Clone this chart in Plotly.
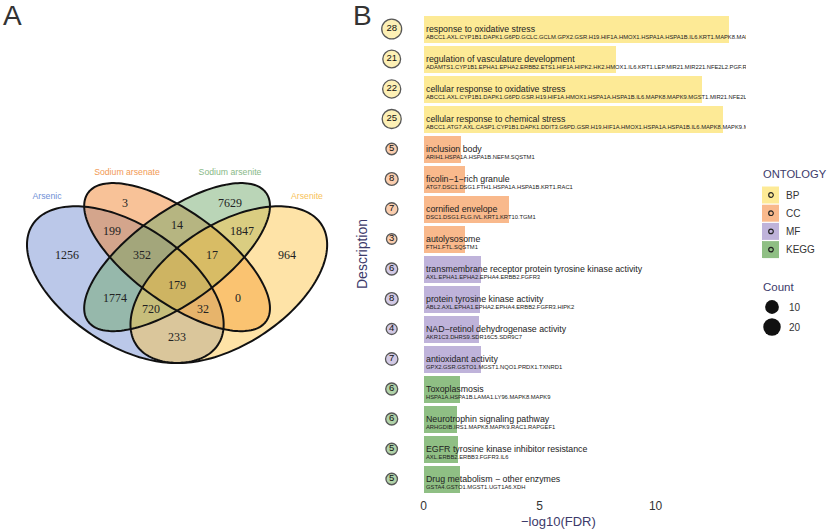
import numpy as np
import plotly.graph_objects as go

W, H = 828, 531

# ---------------- Panel A: Venn data ----------------
venn_sets = ["Arsenic", "Sodium arsenate", "Sodium arsenite", "Arsenite"]
venn_set_colors = ["#6f8fd6", "#f29a55", "#88b886", "#f7c25a"]
venn_regions = ["A", "B", "C", "D", "AB", "BC", "CD", "ABC", "BCD", "ABCD", "AC", "BD", "ACD", "ABD", "AD"]
venn_counts = [1256, 3, 7629, 964, 199, 14, 1847, 352, 17, 179, 1774, 0, 720, 32, 233]

# layout (pixel) positions of region labels and set names
venn_label_x = [67, 125, 230, 287, 112, 177, 242, 142, 212, 177, 115, 238, 151, 203, 177]
venn_label_y = [256, 204, 204, 256, 232, 226, 232, 256, 256, 286, 299, 299, 310, 310, 338]
venn_name_x = [47, 127, 230, 307]
venn_name_y = [197, 173, 173, 197]

# ellipse geometry in unit space (VennDiagram quad layout)
ell_cx = [0.35, 0.50, 0.50, 0.65]
ell_cy = [0.47, 0.57, 0.57, 0.47]
ell_a = [0.35, 0.35, 0.35, 0.35]
ell_b = [0.20, 0.15, 0.15, 0.20]
ell_rot = [-45, -45, 45, 45]
ell_fill = ["rgba(100,130,205,0.44)", "rgba(240,128,40,0.48)", "rgba(110,168,105,0.48)", "rgba(253,196,72,0.48)"]

# ---------------- Panel B: enrichment data ----------------
terms = [
    "response to oxidative stress",
    "regulation of vasculature development",
    "cellular response to oxidative stress",
    "cellular response to chemical stress",
    "inclusion body",
    "ficolin\u22121\u2212rich granule",
    "cornified envelope",
    "autolysosome",
    "transmembrane receptor protein tyrosine kinase activity",
    "protein tyrosine kinase activity",
    "NAD\u2212retinol dehydrogenase activity",
    "antioxidant activity",
    "Toxoplasmosis",
    "Neurotrophin signaling pathway",
    "EGFR tyrosine kinase inhibitor resistance",
    "Drug metabolism \u2212 other enzymes",
]
ontology = ["BP"] * 4 + ["CC"] * 4 + ["MF"] * 4 + ["KEGG"] * 4
counts = [28, 21, 22, 25, 5, 8, 7, 3, 6, 8, 4, 7, 6, 6, 5, 5]
neglog10_fdr = [13.15, 8.3, 12.0, 12.9, 1.63, 1.77, 3.67, 1.8, 2.46, 2.41, 2.4, 2.45, 1.58, 1.45, 1.47, 1.55]
genes = [
    "ABCC1.AXL.CYP1B1.DAPK1.G6PD.GCLC.GCLM.GPX2.GSR.H19.HIF1A.HMOX1.HSPA1A.HSPA1B.IL6.KRT1.MAPK8.MAPK9.MGST1.MIR21.NFE2L2",
    "ADAMTS1.CYP1B1.EPHA1.EPHA2.ERBB2.ETS1.HIF1A.HIPK2.HK2.HMOX1.IL6.KRT1.LEP.MIR21.MIR221.NFE2L2.PGF.RAC1",
    "ABCC1.AXL.CYP1B1.DAPK1.G6PD.GSR.H19.HIF1A.HMOX1.HSPA1A.HSPA1B.IL6.MAPK8.MAPK9.MGST1.MIR21.NFE2L2.NQO1",
    "ABCC1.ATG7.AXL.CASP1.CYP1B1.DAPK1.DDIT3.G6PD.GSR.H19.HIF1A.HMOX1.HSPA1A.HSPA1B.IL6.MAPK8.MAPK9.MGST1",
    "ARIH1.HSPA1A.HSPA1B.NEFM.SQSTM1",
    "ATG7.DSC1.DSG1.FTH1.HSPA1A.HSPA1B.KRT1.RAC1",
    "DSC1.DSG1.FLG.IVL.KRT1.KRT10.TGM1",
    "FTH1.FTL.SQSTM1",
    "AXL.EPHA1.EPHA2.EPHA4.ERBB2.FGFR3",
    "ABL2.AXL.EPHA1.EPHA2.EPHA4.ERBB2.FGFR3.HIPK2",
    "AKR1C3.DHRS9.SDR16C5.SDR9C7",
    "GPX2.GSR.GSTO1.MGST1.NQO1.PRDX1.TXNRD1",
    "HSPA1A.HSPA1B.LAMA1.LY96.MAPK8.MAPK9",
    "ARHGDIB.IRS1.MAPK8.MAPK9.RAC1.RAPGEF1",
    "AXL.ERBB2.ERBB3.FGFR3.IL6",
    "GSTA4.GSTO1.MGST1.UGT1A6.XDH",
]
ont_levels = ["BP", "CC", "MF", "KEGG"]
ont_colors = {"BP": "#fdea96", "CC": "#f9b98c", "MF": "#bfb3da", "KEGG": "#8fbf84"}
legend_counts = [10, 20]

SANS = "Liberation Sans, Arial, sans-serif"
SERIF = "Liberation Serif, Times New Roman, serif"
NAVY = "#3c3a6a"


def dot_size(c):
    return float(np.sqrt(11.5 * c + 75))


def P(x, y):
    return x / W, 1 - y / H


fig = go.Figure()
shapes = []
annotations = []

# ---------------- Venn ----------------
def u2p(ux, uy):
    return 27 + (ux - 0.065) * 345, 363 - (uy - 0.185) * 275

paths = []
for cx, cy, a, b, r in zip(ell_cx, ell_cy, ell_a, ell_b, ell_rot):
    t = np.linspace(0, 2 * np.pi, 181)
    th = np.deg2rad(r)
    ux = cx + a * np.cos(t) * np.cos(th) - b * np.sin(t) * np.sin(th)
    uy = cy + a * np.cos(t) * np.sin(th) + b * np.sin(t) * np.cos(th)
    px, py = u2p(ux, uy)
    d = "M " + " L ".join(f"{x:.2f},{y:.2f}" for x, y in zip(px, py)) + " Z"
    paths.append(d)

for d, fc in zip(paths, ell_fill):
    shapes.append(dict(type="path", path=d, xref="x2", yref="y2", fillcolor=fc,
                       line=dict(width=0), layer="below"))
for d in paths:
    shapes.append(dict(type="path", path=d, xref="x2", yref="y2", fillcolor="rgba(0,0,0,0)",
                       line=dict(width=2, color="#111111"), layer="below"))

fig.add_trace(go.Scatter(
    x=venn_label_x, y=venn_label_y, mode="text",
    text=[str(v) for v in venn_counts], textposition="middle center",
    textfont=dict(family=SERIF, size=12, color="#222222"),
    xaxis="x2", yaxis="y2", showlegend=False, hoverinfo="skip", cliponaxis=False))

for name, col, x, y in zip(venn_sets, venn_set_colors, venn_name_x, venn_name_y):
    fig.add_trace(go.Scatter(
        x=[x], y=[y], mode="text", text=[name], textposition="middle center",
        textfont=dict(family=SANS, size=8.7, color=col),
        xaxis="x2", yaxis="y2", showlegend=False, hoverinfo="skip", cliponaxis=False))

# ---------------- Bars ----------------
ypos = list(range(len(terms)))
bar_cols = [ont_colors[o] for o in ontology]
fig.add_trace(go.Bar(
    x=neglog10_fdr, y=ypos, orientation="h", width=0.9,
    marker=dict(color=bar_cols, line=dict(width=0)),
    showlegend=False, hoverinfo="skip"))

fig.add_trace(go.Scatter(
    x=[0.1] * len(terms), y=[v + 0.04 for v in ypos], mode="text", text=terms,
    textposition="middle right", textfont=dict(family=SANS, size=8.8, color="#222222"),
    showlegend=False, hoverinfo="skip", cliponaxis=True))
fig.add_trace(go.Scatter(
    x=[0.1] * len(terms), y=[v + 0.30 for v in ypos], mode="text", text=genes,
    textposition="middle right", textfont=dict(family=SANS, size=5.8, color="#222222"),
    showlegend=False, hoverinfo="skip", cliponaxis=True))

fig.add_trace(go.Scatter(
    x=[-1.38] * len(terms), y=ypos, mode="markers+text",
    text=[str(c) for c in counts], textposition="middle center",
    textfont=dict(family=SANS, size=9.5, color="#111111"),
    marker=dict(size=[dot_size(c) for c in counts], color=bar_cols,
                line=dict(width=1.3, color="#111111")),
    showlegend=False, hoverinfo="skip", cliponaxis=False))

# ---------------- Axis titles ----------------
annotations.append(dict(x=P(558, 521)[0], y=P(558, 521)[1], xref="paper", yref="paper",
                        text="\u2212log10(FDR)", showarrow=False, xanchor="center", yanchor="middle",
                        font=dict(family=SANS, size=13, color=NAVY)))
annotations.append(dict(x=P(362, 254)[0], y=P(362, 254)[1], xref="paper", yref="paper",
                        text="Description", showarrow=False, xanchor="center", yanchor="middle",
                        textangle=-90, font=dict(family=SANS, size=14, color=NAVY)))

# ---------------- Legends ----------------
annotations.append(dict(x=P(761, 174)[0], y=P(761, 174)[1], xref="paper", yref="paper",
                        text="ONTOLOGY", showarrow=False, xanchor="left", yanchor="middle",
                        font=dict(family=SANS, size=11.2, color=NAVY)))
for i, o in enumerate(ont_levels):
    yc = 195 + i * 18.2
    x0, y0 = P(762, yc - 8.5)
    x1, y1 = P(779, yc + 8.5)
    shapes.append(dict(type="rect", xref="paper", yref="paper", x0=x0, x1=x1, y0=y1, y1=y0,
                       fillcolor=ont_colors[o], line=dict(width=0)))
    cx0, cy0 = P(768.7, yc - 2.3)
    cx1, cy1 = P(773.3, yc + 2.3)
    shapes.append(dict(type="circle", xref="paper", yref="paper", x0=cx0, x1=cx1, y0=cy1, y1=cy0,
                       fillcolor="rgba(0,0,0,0)", line=dict(width=1.2, color="#222222")))
    annotations.append(dict(x=P(784, yc)[0], y=P(784, yc)[1], xref="paper", yref="paper",
                            text=o, showarrow=False, xanchor="left", yanchor="middle",
                            font=dict(family=SANS, size=10, color="#333333")))

annotations.append(dict(x=P(761, 287)[0], y=P(761, 287)[1], xref="paper", yref="paper",
                        text="Count", showarrow=False, xanchor="left", yanchor="middle",
                        font=dict(family=SANS, size=11.5, color=NAVY)))
for i, c in enumerate(legend_counts):
    yc = 307 + i * 20
    r = dot_size(c) / 2
    x0, y0 = P(772 - r, yc - r)
    x1, y1 = P(772 + r, yc + r)
    shapes.append(dict(type="circle", xref="paper", yref="paper", x0=x0, x1=x1, y0=y1, y1=y0,
                       fillcolor="#111111", line=dict(width=0)))
    annotations.append(dict(x=P(787, yc)[0], y=P(787, yc)[1], xref="paper", yref="paper",
                            text=str(c), showarrow=False, xanchor="left", yanchor="middle",
                            font=dict(family=SANS, size=10, color="#333333")))

# panel letters
annotations.append(dict(x=P(12, 16)[0], y=P(12, 16)[1], xref="paper", yref="paper", text="A",
                        showarrow=False, xanchor="center", yanchor="middle",
                        font=dict(family=SANS, size=28, color="#333333")))
annotations.append(dict(x=P(362, 16)[0], y=P(362, 16)[1], xref="paper", yref="paper", text="B",
                        showarrow=False, xanchor="center", yanchor="middle",
                        font=dict(family=SANS, size=28, color="#333333")))

fig.update_layout(
    width=W, height=H, margin=dict(l=0, r=0, t=0, b=0, autoexpand=False),
    paper_bgcolor="white", plot_bgcolor="white",
    shapes=shapes, annotations=annotations, showlegend=False, bargap=0,
    xaxis=dict(domain=[375 / W, 746 / W], range=[-2.1, 13.9], tickvals=[0, 5, 10],
               showgrid=False, zeroline=False, showline=False, ticks="", automargin=False,
               tickfont=dict(family=SANS, size=12, color="#333333"),
               fixedrange=True),
    yaxis=dict(domain=[1 - 497 / H, 1 - 11 / H], range=[15.6, -0.6], automargin=False,
               showgrid=False, zeroline=False, showline=False, showticklabels=False, ticks="",
               fixedrange=True),
    xaxis2=dict(domain=[0, 364 / W], range=[0, 364], visible=False, anchor="y2",
                automargin=False, fixedrange=True),
    yaxis2=dict(domain=[0, 1], range=[531, 0], visible=False, anchor="x2",
                automargin=False, fixedrange=True),
)

fig.write_html(
    "out.html",
    config={"displayModeBar": False},
    post_script="document.body.style.margin='0px';document.body.style.overflow='hidden';",
)
